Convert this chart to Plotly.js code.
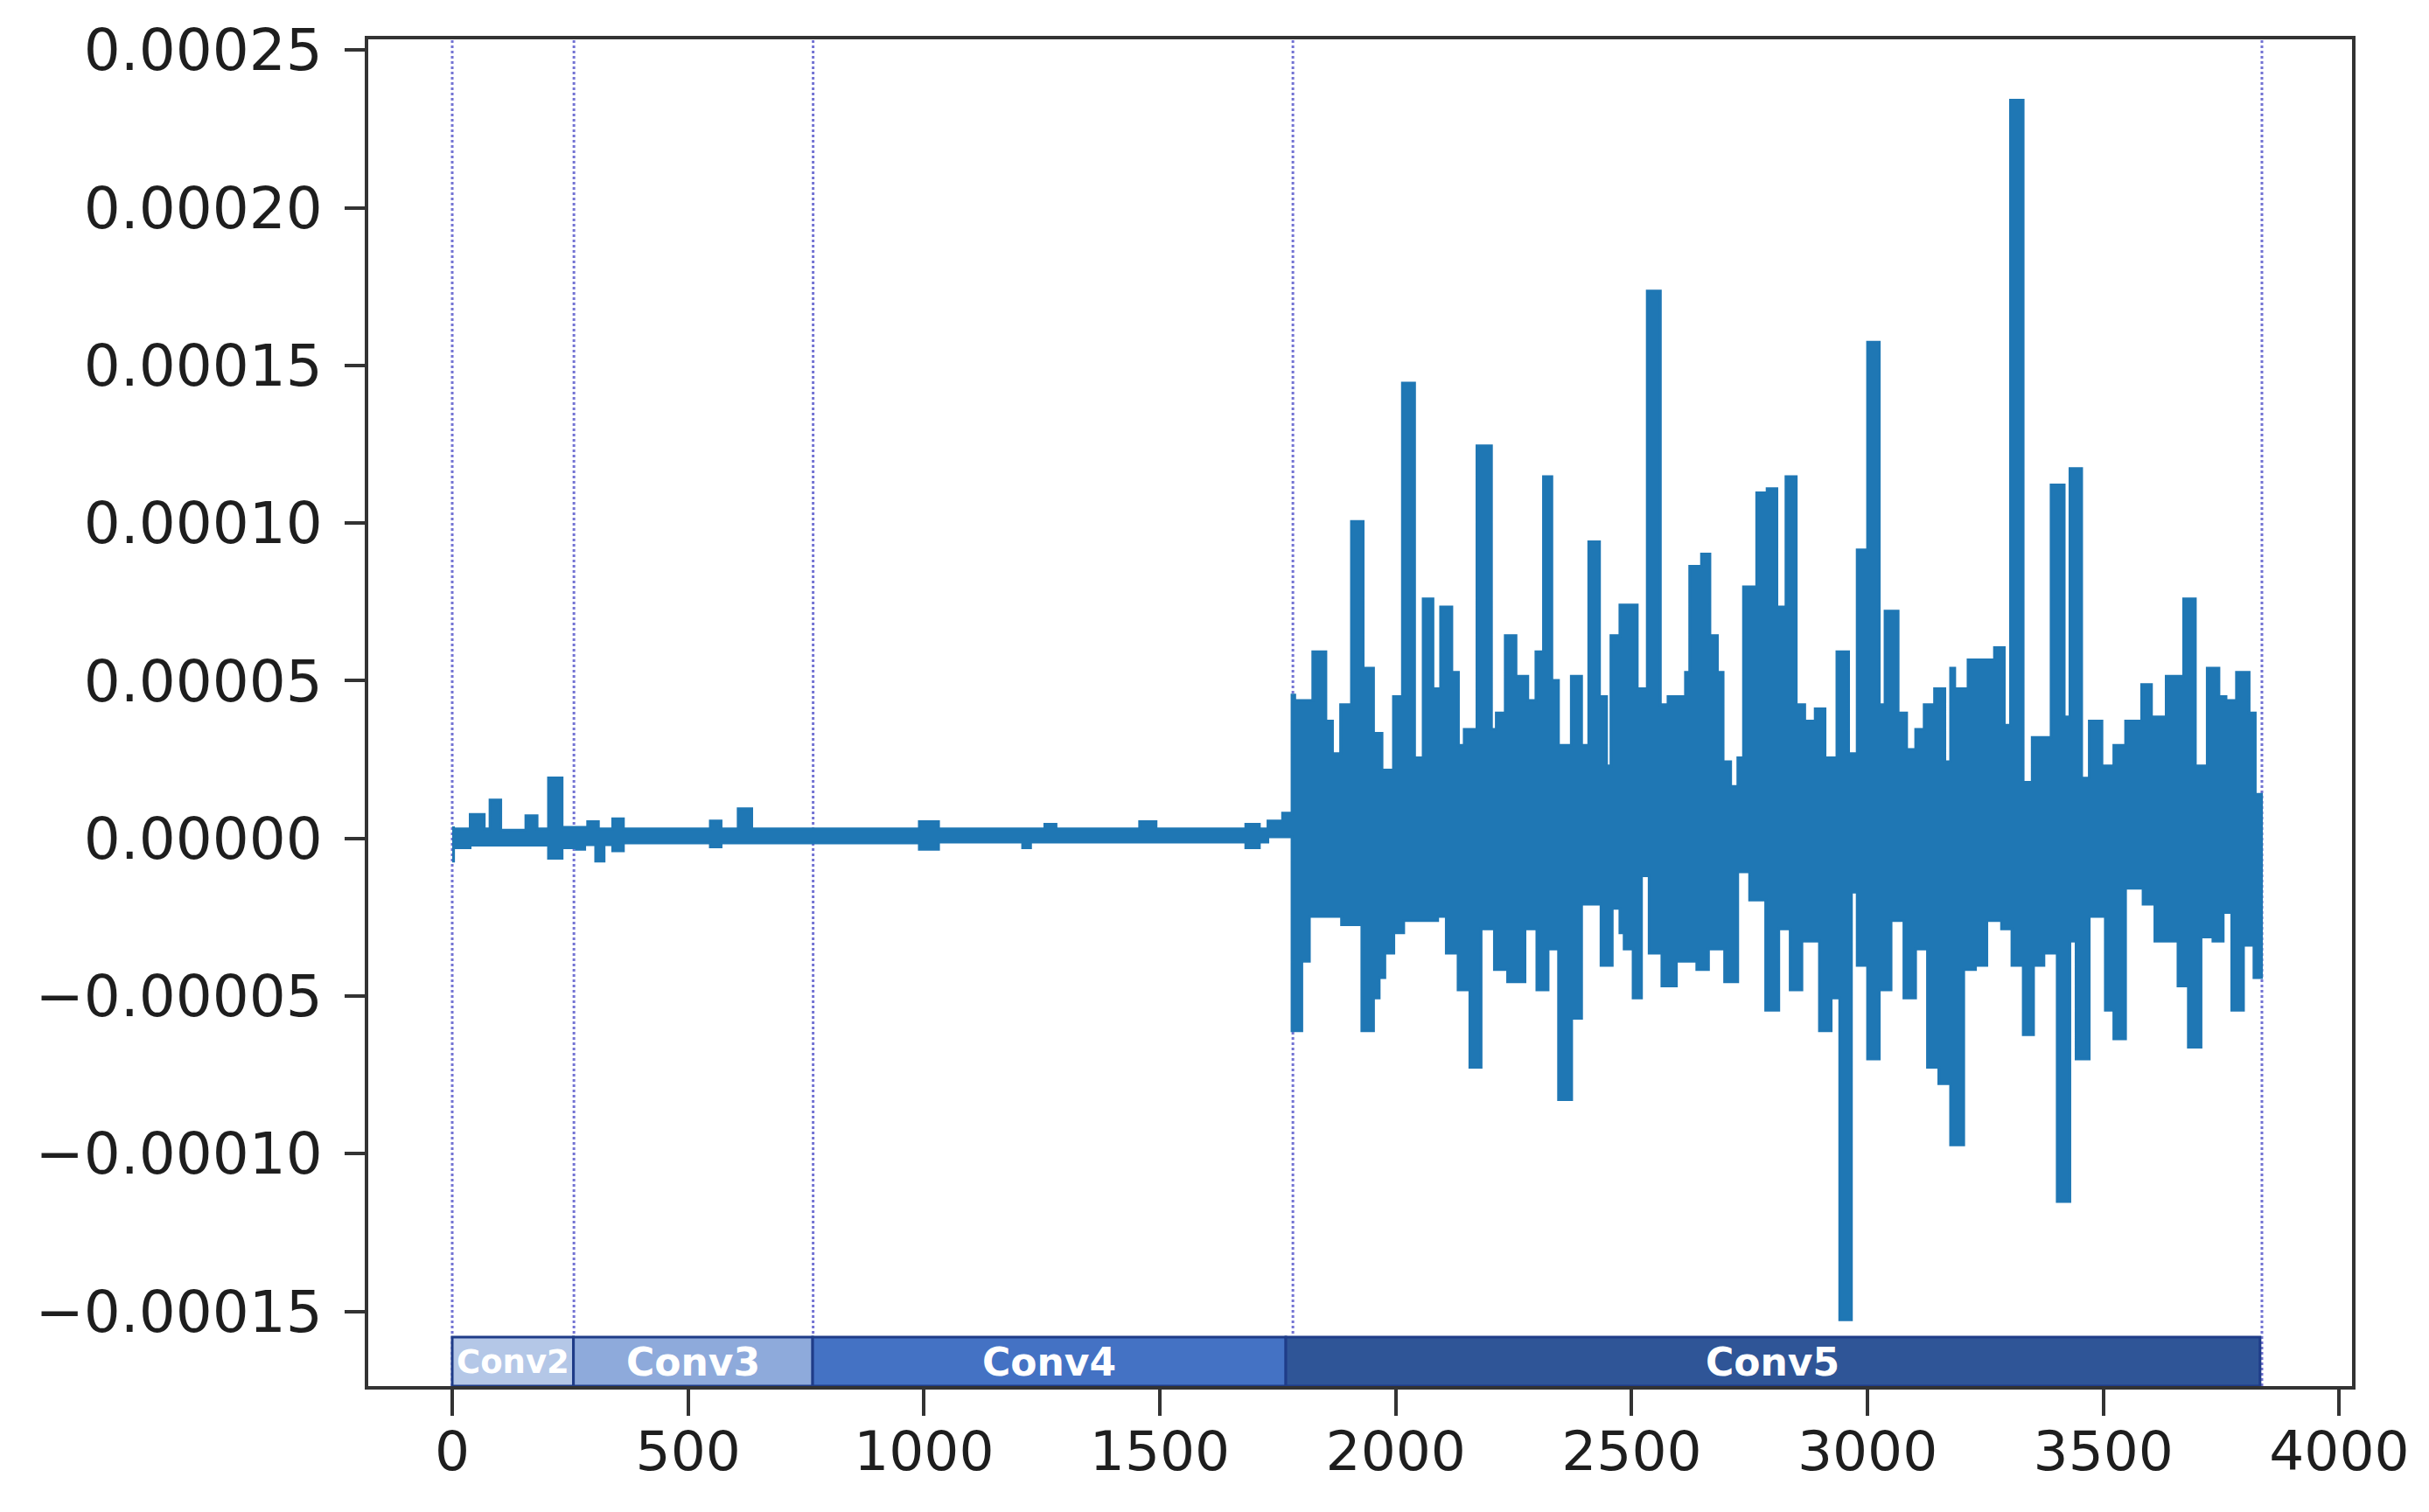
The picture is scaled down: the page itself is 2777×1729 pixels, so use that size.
<!DOCTYPE html>
<html><head><meta charset="utf-8">
<script src="https://cdn.plot.ly/plotly-3.0.1.min.js"></script>
<style>html,body{margin:0;padding:0;background:#fff}#chart{width:2777px;height:1729px}</style>
</head><body><div id="chart"></div>
<script>
// Upper envelope of the dense line (step breakpoints)
const upperX = [0, 3, 38, 68, 80, 103, 156, 180, 204, 233, 287, 310, 340, 363, 547, 570, 606, 635, 990, 1031, 1256, 1280, 1457, 1492, 1682, 1711, 1729, 1760,
  1780, 1786, 1824, 1852, 1866, 1883, 1906, 1931, 1953, 1971, 1995, 2014, 2040, 2058, 2079, 2095, 2119, 2133, 2145, 2172, 2203, 2213, 2232, 2255, 2280, 2297, 2313, 2331, 2345, 2372, 2394, 2409, 2432, 2447, 2456, 2475,
  2512, 2533, 2561, 2577, 2614, 2623, 2648, 2666, 2682, 2694, 2710, 2725, 2737, 2765, 2787, 2808, 2827, 2849, 2867, 2889, 2910, 2935, 2960, 2978, 3000, 3025, 3037, 3065, 3083, 3102, 3120, 3142, 3164, 3176,
  3185, 3213, 3269, 3290, 3303, 3330, 3349, 3389, 3417, 3429, 3454, 3470, 3497, 3522, 3547, 3581, 3602, 3633, 3670, 3695, 3720, 3745, 3760, 3782, 3809, 3822, 3838];
const upperY = [0.34e-5, 0.30e-5, 0.76e-5, 0.30e-5, 1.22e-5, 0.26e-5, 0.72e-5, 0.30e-5, 1.92e-5, 0.35e-5, 0.53e-5, 0.30e-5, 0.62e-5, 0.30e-5, 0.55e-5, 0.30e-5, 0.94e-5, 0.30e-5, 0.53e-5, 0.30e-5, 0.45e-5, 0.30e-5, 0.53e-5, 0.30e-5, 0.45e-5, 0.30e-5, 0.55e-5, 0.80e-5,
  4.55e-5, 4.37e-5, 5.92e-5, 3.72e-5, 2.69e-5, 4.24e-5, 10.05e-5, 5.40e-5, 3.33e-5, 2.17e-5, 4.50e-5, 14.44e-5, 2.56e-5, 7.60e-5, 4.75e-5, 7.34e-5, 5.27e-5, 2.95e-5, 3.46e-5, 12.45e-5, 3.46e-5, 3.98e-5, 6.43e-5, 5.14e-5, 4.37e-5, 5.92e-5, 11.47e-5, 5.01e-5, 2.95e-5, 5.14e-5, 2.95e-5, 9.41e-5, 4.50e-5, 2.30e-5, 6.43e-5, 7.40e-5,
  4.75e-5, 17.36e-5, 4.24e-5, 4.50e-5, 5.27e-5, 8.63e-5, 9.02e-5, 6.43e-5, 5.27e-5, 2.43e-5, 1.65e-5, 2.56e-5, 7.98e-5, 10.96e-5, 11.09e-5, 7.34e-5, 11.47e-5, 4.24e-5, 3.72e-5, 4.11e-5, 2.56e-5, 5.92e-5, 2.69e-5, 9.15e-5, 15.74e-5, 4.24e-5, 7.21e-5, 3.98e-5, 2.82e-5, 3.46e-5, 4.24e-5, 4.75e-5, 2.43e-5, 5.40e-5,
  4.75e-5, 5.66e-5, 6.05e-5, 3.59e-5, 23.41e-5, 1.78e-5, 3.20e-5, 11.21e-5, 3.85e-5, 11.73e-5, 1.91e-5, 3.72e-5, 2.30e-5, 2.95e-5, 3.72e-5, 4.88e-5, 3.85e-5, 5.14e-5, 7.60e-5, 2.30e-5, 5.40e-5, 4.50e-5, 4.37e-5, 5.27e-5, 3.98e-5, 1.40e-5, 1.40e-5];

// Lower envelope of the dense line
const lowerX = [0, 3, 38, 204, 233, 263, 281, 304, 322, 340, 363, 547, 570, 990, 1031, 1209, 1226, 1682, 1711, 1729,
  1780, 1801, 1817, 1885, 1928, 1953, 1965, 1977, 1996, 2017, 2089, 2107, 2132, 2157, 2181, 2209, 2237, 2274, 2299, 2323, 2345, 2373, 2394, 2435, 2459, 2475, 2484,
  2503, 2521, 2537, 2564, 2595, 2638, 2663, 2697, 2725, 2750, 2784, 2812, 2836, 2861, 2898, 2923, 2941, 2966, 2978, 3000, 3025, 3050, 3077, 3102, 3127, 3151, 3176,
  3204, 3229, 3253, 3284, 3306, 3330, 3352, 3374, 3402, 3429, 3442, 3470, 3504, 3522, 3547, 3584, 3609, 3658, 3680, 3707, 3732, 3754, 3772, 3797, 3819, 3838];
const lowerY = [-0.72e-5, -0.30e-5, -0.22e-5, -0.63e-5, -0.30e-5, -0.35e-5, -0.20e-5, -0.72e-5, -0.20e-5, -0.40e-5, -0.15e-5, -0.27e-5, -0.15e-5, -0.35e-5, -0.12e-5, -0.30e-5, -0.12e-5, -0.30e-5, -0.12e-5, 0.05e-5,
  -6.10e-5, -3.90e-5, -2.48e-5, -2.74e-5, -6.10e-5, -5.06e-5, -4.42e-5, -3.64e-5, -3.00e-5, -2.61e-5, -2.48e-5, -3.64e-5, -4.81e-5, -7.26e-5, -2.87e-5, -4.16e-5, -4.55e-5, -2.87e-5, -4.81e-5, -3.51e-5, -8.29e-5, -5.71e-5, -2.09e-5, -4.03e-5, -2.22e-5, -3.00e-5, -3.51e-5,
  -5.06e-5, -1.19e-5, -3.64e-5, -4.68e-5, -3.90e-5, -4.16e-5, -3.51e-5, -4.55e-5, -1.06e-5, -1.96e-5, -5.45e-5, -2.87e-5, -4.81e-5, -3.26e-5, -6.10e-5, -5.06e-5, -15.27e-5, -1.71e-5, -4.03e-5, -7.00e-5, -4.81e-5, -2.61e-5, -5.06e-5, -3.51e-5, -7.26e-5, -7.78e-5, -9.72e-5,
  -4.16e-5, -4.03e-5, -2.61e-5, -2.87e-5, -4.03e-5, -6.23e-5, -4.03e-5, -3.64e-5, -11.52e-5, -3.26e-5, -7.00e-5, -2.48e-5, -5.45e-5, -6.36e-5, -1.58e-5, -2.09e-5, -3.26e-5, -4.68e-5, -6.62e-5, -3.13e-5, -3.26e-5, -2.35e-5, -5.45e-5, -3.39e-5, -4.42e-5, -4.42e-5];

// Layer blocks along the bottom
const layerNames = ['Conv2', 'Conv3', 'Conv4', 'Conv5'];
const layerEdges = [0, 257, 764, 1767, 3832];
// Dotted layer dividers
const dividerX = [0, 258, 765, 1782, 3836];
// Ticks
const xTickVals = [0, 500, 1000, 1500, 2000, 2500, 3000, 3500, 4000];
const yTickVals = [-0.00015, -0.0001, -0.00005, 0, 0.00005, 0.0001, 0.00015, 0.0002, 0.00025];

// Styling
const lineColor = '#1f77b4';
const layerFill = ['#b4c7e7', '#8eaadb', '#4472c4', '#2f5597'];
const layerBorder = '#1f3c88';
const yMin = -0.0001737, yMax = 0.0002534;
const blockTop = -0.0001582;

const traces = [
  {x: lowerX, y: lowerY, type: 'scatter', mode: 'lines', line: {shape: 'hv', color: lineColor, width: 3}, hoverinfo: 'skip', showlegend: false},
  {x: upperX, y: upperY, type: 'scatter', mode: 'lines', line: {shape: 'hv', color: lineColor, width: 3}, fill: 'tonexty', fillcolor: lineColor, hoverinfo: 'skip', showlegend: false}
];

const shapes = [];
dividerX.forEach(v => shapes.push({type: 'line', xref: 'x', yref: 'paper', x0: v, x1: v, y0: 0, y1: 1, layer: 'below',
  line: {color: 'rgba(80,80,200,0.8)', width: 3, dash: 'dot'}}));
layerNames.forEach((n, i) => shapes.push({type: 'rect', xref: 'x', yref: 'y', x0: layerEdges[i], x1: layerEdges[i + 1], y0: yMin, y1: blockTop,
  fillcolor: layerFill[i], layer: 'above', line: {color: layerBorder, width: 3}}));

const annotations = layerNames.map((n, i) => ({
  x: (layerEdges[i] + layerEdges[i + 1]) / 2, y: (yMin + blockTop) / 2, xref: 'x', yref: 'y',
  text: n, showarrow: false, font: {family: 'DejaVu Sans', size: i === 0 ? 37 : 44, weight: 'bold', color: '#ffffff'}
}));

const axisCommon = {showgrid: false, zeroline: false, showline: true, linewidth: 4, linecolor: '#333333', mirror: true,
  ticks: 'outside', tickwidth: 4, tickcolor: '#333333'};

const layout = {
  width: 2777, height: 1729,
  margin: {l: 421, r: 88, t: 45, b: 144, pad: 0},
  paper_bgcolor: '#ffffff', plot_bgcolor: '#ffffff',
  xaxis: Object.assign({}, axisCommon, {range: [-178, 4027], tickmode: 'array', tickvals: xTickVals, ticklen: 30, ticklabelstandoff: -14,
    tickfont: {family: 'DejaVu Sans', size: 63, color: '#1e1e1e'}}),
  yaxis: Object.assign({}, axisCommon, {range: [yMin, yMax], tickmode: 'array', tickvals: yTickVals, tickformat: '.5f', ticklen: 23, ticklabelstandoff: 12,
    tickfont: {family: 'DejaVu Sans', size: 66, color: '#1e1e1e'}}),
  shapes: shapes,
  annotations: annotations,
  showlegend: false
};

Plotly.newPlot('chart', traces, layout, {displayModeBar: false, staticPlot: true});
</script>
</body></html>
